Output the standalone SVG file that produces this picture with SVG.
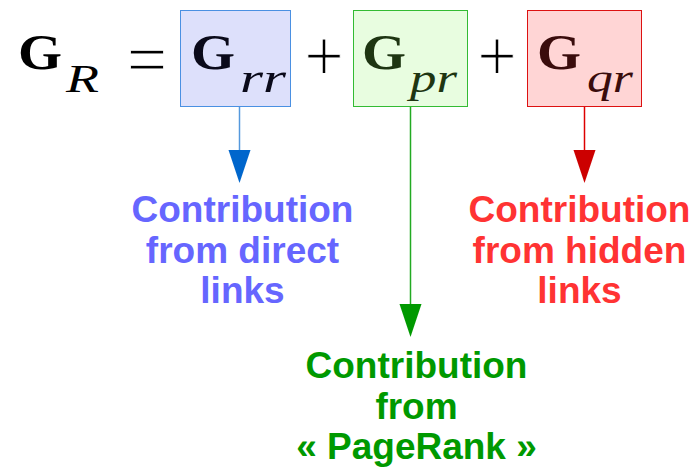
<svg xmlns="http://www.w3.org/2000/svg" width="694" height="469" viewBox="0 0 694 469">
  <style>
    .bold-g { font-family: "Liberation Serif", "Times New Roman", serif; font-weight: bold; font-size: 51px; }
    .sub { font-family: "Liberation Serif", "Times New Roman", serif; font-style: italic; font-size: 39px; }
    .op { font-family: "Liberation Serif", "Times New Roman", serif; font-size: 74px; fill: #000; stroke: #fff; stroke-width: 0.8px; }
    .label { font-family: "Liberation Sans", Arial, sans-serif; font-weight: bold; font-size: 37px; text-anchor: middle; }
  </style>

  <rect width="694" height="469" fill="#ffffff"/>

  <!-- left-hand side: G_R = -->
  <g id="lhs">
    <text class="bold-g" x="18" y="69" textLength="44" lengthAdjust="spacingAndGlyphs">G</text>
    <text class="sub" x="66" y="92" textLength="33" lengthAdjust="spacingAndGlyphs">R</text>
    <text class="op" x="147" y="84" text-anchor="middle" textLength="40" lengthAdjust="spacingAndGlyphs">=</text>
  </g>

  <!-- direct links term -->
  <g id="term-rr">
    <rect x="180.5" y="10.5" width="110" height="96" fill="#dde0fb" stroke="#4a90e2" stroke-width="1"/>
    <text class="bold-g" x="191" y="69" fill="#0a0a1a" textLength="44" lengthAdjust="spacingAndGlyphs">G</text>
    <text class="sub" x="240" y="92" fill="#0a0a1a" textLength="46" lengthAdjust="spacingAndGlyphs">rr</text>
  </g>

  <g id="plus-1">
    <text class="op" x="324" y="81" text-anchor="middle" textLength="39" lengthAdjust="spacingAndGlyphs">+</text>
  </g>

  <!-- PageRank term -->
  <g id="term-pr">
    <rect x="353.5" y="10.5" width="114" height="96" fill="#e8fde0" stroke="#33bb33" stroke-width="1"/>
    <text class="bold-g" x="362" y="69" fill="#1e3512" textLength="44" lengthAdjust="spacingAndGlyphs">G</text>
    <text class="sub" x="410" y="92" fill="#1e3512" textLength="47" lengthAdjust="spacingAndGlyphs">pr</text>
  </g>

  <g id="plus-2">
    <text class="op" x="497" y="81" text-anchor="middle" textLength="39" lengthAdjust="spacingAndGlyphs">+</text>
  </g>

  <!-- hidden links term -->
  <g id="term-qr">
    <rect x="527.5" y="10.5" width="114" height="96" fill="#ffd5d5" stroke="#dd1111" stroke-width="1"/>
    <text class="bold-g" x="537" y="69" fill="#3a0c0c" textLength="44" lengthAdjust="spacingAndGlyphs">G</text>
    <text class="sub" x="587" y="92" fill="#3a0c0c" textLength="46" lengthAdjust="spacingAndGlyphs">qr</text>
  </g>

  <!-- connectors from each term down to its description -->
  <g id="connectors">
    <line x1="239.5" y1="107" x2="239.5" y2="152" stroke="#5599dd" stroke-width="1.5"/>
    <polygon points="228.5,150 250.5,150 239.5,183" fill="#0066cc"/>
    <line x1="410.5" y1="107" x2="410.5" y2="306" stroke="#22aa22" stroke-width="1.5"/>
    <polygon points="399.5,304 421.5,304 410.5,337" fill="#009900"/>
    <line x1="584.5" y1="107" x2="584.5" y2="152" stroke="#dd0000" stroke-width="1.5"/>
    <polygon points="573.5,150 595.5,150 584.5,183" fill="#cc0000"/>
  </g>

  <g id="label-direct" fill="#6666ff">
    <text class="label" x="242.5" y="222">Contribution</text>
    <text class="label" x="242.5" y="262.5">from direct</text>
    <text class="label" x="242.5" y="303">links</text>
  </g>

  <g id="label-pagerank" fill="#009900">
    <text class="label" x="416.5" y="378">Contribution</text>
    <text class="label" x="416.5" y="418.5">from</text>
    <text class="label" x="416.5" y="459">« PageRank »</text>
  </g>

  <g id="label-hidden" fill="#ff3333">
    <text class="label" x="579.5" y="222">Contribution</text>
    <text class="label" x="579.5" y="262.5">from hidden</text>
    <text class="label" x="579.5" y="303">links</text>
  </g>
</svg>
